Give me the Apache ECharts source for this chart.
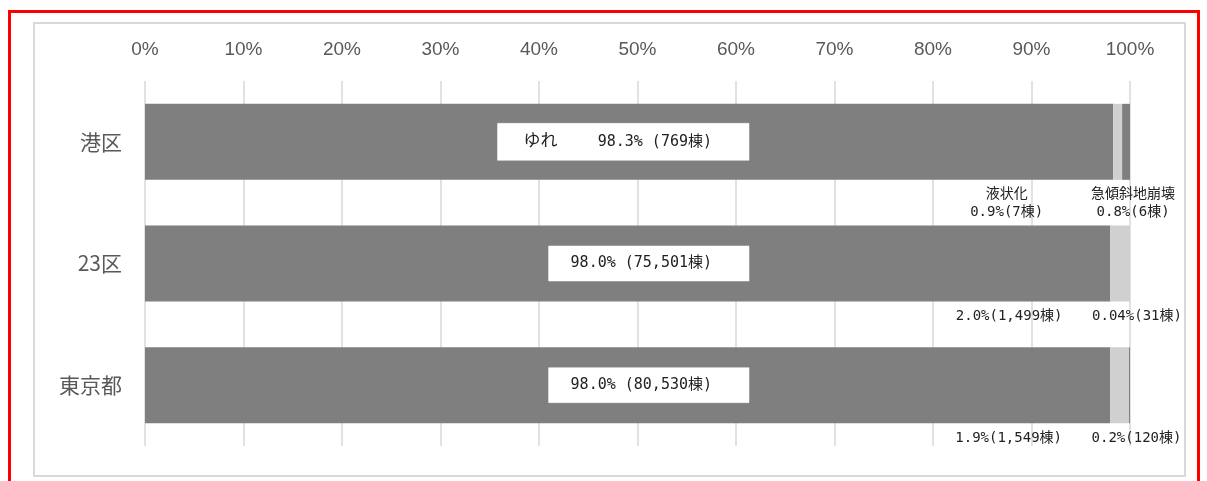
<!DOCTYPE html>
<html>
<head>
<meta charset="utf-8">
<script src="https://cdn.jsdelivr.net/npm/echarts@6/dist/echarts.min.js"></script>
<style>
  html, body { margin: 0; padding: 0; background: #fff; }
  #main { width: 1207px; height: 481px; }
</style>
</head>
<body>
<div id="main"></div>
<script>
// categories (top to bottom)
var areas = ['港区', '23区', '東京都'];
// share of fully destroyed buildings by reason (%)
var yurePct = [98.3, 98.0, 98.0];
var ekijoPct = [0.9, 2.0, 1.9];
var kyushaPct = [0.8, 0.04, 0.2];
// building counts
var yureCnt = ['769', '75,501', '80,530'];
var ekijoCnt = ['7', '1,499', '1,549'];
var kyushaCnt = ['6', '31', '120'];
var xTicks = [0, 10, 20, 30, 40, 50, 60, 70, 80, 90, 100];

var labelFont = '"DejaVu Sans Mono", "Noto Sans CJK JP", monospace';

var chart = echarts.init(document.getElementById('main'));
chart.setOption({
    animation: false,
    graphic: [
        {
            type: 'rect', silent: true, z: -10,
            shape: { x: 9.5, y: 11.5, width: 1189, height: 480 },
            style: { fill: 'none', stroke: '#ff0000', lineWidth: 3 }
        },
        {
            type: 'rect', silent: true, z: -10,
            shape: { x: 34, y: 23, width: 1151, height: 453 },
            style: { fill: 'none', stroke: '#d9d9d9', lineWidth: 2 }
        }
    ],
    grid: {
        left: 145,
        right: 77,
        top: 81,
        bottom: 35
    },
    xAxis: {
        type: 'value',
        position: 'top',
        min: xTicks[0],
        max: xTicks[xTicks.length - 1],
        interval: xTicks[1] - xTicks[0],
        axisLine: { show: false },
        axisTick: { show: false },
        axisLabel: {
            margin: 22,
            color: '#595959',
            fontSize: 19,
            fontFamily: 'Arial, "Liberation Sans", sans-serif',
            formatter: '{value}%'
        },
        splitLine: { lineStyle: { color: '#d9d9d9', width: 1.5 } }
    },
    yAxis: {
        type: 'category',
        inverse: true,
        data: areas,
        axisLine: { show: false },
        axisTick: { show: false },
        axisLabel: {
            margin: 23,
            color: '#595959',
            fontSize: 21,
            fontFamily: '"Noto Sans CJK JP", sans-serif'
        }
    },
    series: [
        {
            name: 'ゆれ',
            type: 'bar',
            stack: 'all',
            barWidth: 76,
            itemStyle: { color: '#7f7f7f' },
            data: yurePct,
            label: {
                show: true,
                position: [604, '50%'],
                align: 'right',
                verticalAlign: 'middle',
                backgroundColor: '#ffffff',
                borderColor: '#bfbfbf',
                borderWidth: 0.5,
                padding: [10, 37, 10, 22],
                color: '#222',
                fontSize: 15,
                fontFamily: labelFont,
                rich: {
                    y: { fontSize: 17, fontFamily: labelFont, color: '#222', padding: [0, 4, 0, 4] }
                },
                formatter: function (p) {
                    var txt = p.value.toFixed(1) + '% (' + yureCnt[p.dataIndex] + '棟)';
                    return p.dataIndex === 0 ? '{y|ゆれ}    ' + txt : txt;
                }
            }
        },
        {
            name: '液状化',
            type: 'bar',
            stack: 'all',
            barWidth: 76,
            itemStyle: { color: '#d0d0d0' },
            data: ekijoPct,
            label: {
                show: true,
                position: 'bottom',
                distance: 6,
                offset: [-111, 0],
                align: 'center',
                color: '#222',
                fontSize: 14,
                lineHeight: 18,
                fontFamily: labelFont,
                formatter: function (p) {
                    var txt = p.value.toFixed(1) + '%(' + ekijoCnt[p.dataIndex] + '棟)';
                    return p.dataIndex === 0 ? '液状化\n' + txt : txt;
                }
            }
        },
        {
            name: '急傾斜地崩壊',
            type: 'bar',
            stack: 'all',
            barWidth: 76,
            itemStyle: { color: '#7f7f7f' },
            data: kyushaPct,
            label: {
                show: true,
                position: 'bottom',
                distance: 6,
                offset: [7, 0],
                align: 'center',
                color: '#222',
                fontSize: 14,
                lineHeight: 18,
                fontFamily: labelFont,
                formatter: function (p) {
                    var v = p.value < 0.1 ? p.value.toFixed(2) : p.value.toFixed(1);
                    var txt = v + '%(' + kyushaCnt[p.dataIndex] + '棟)';
                    return p.dataIndex === 0 ? '急傾斜地崩壊\n' + txt : txt;
                }
            }
        }
    ]
});
</script>
</body>
</html>
